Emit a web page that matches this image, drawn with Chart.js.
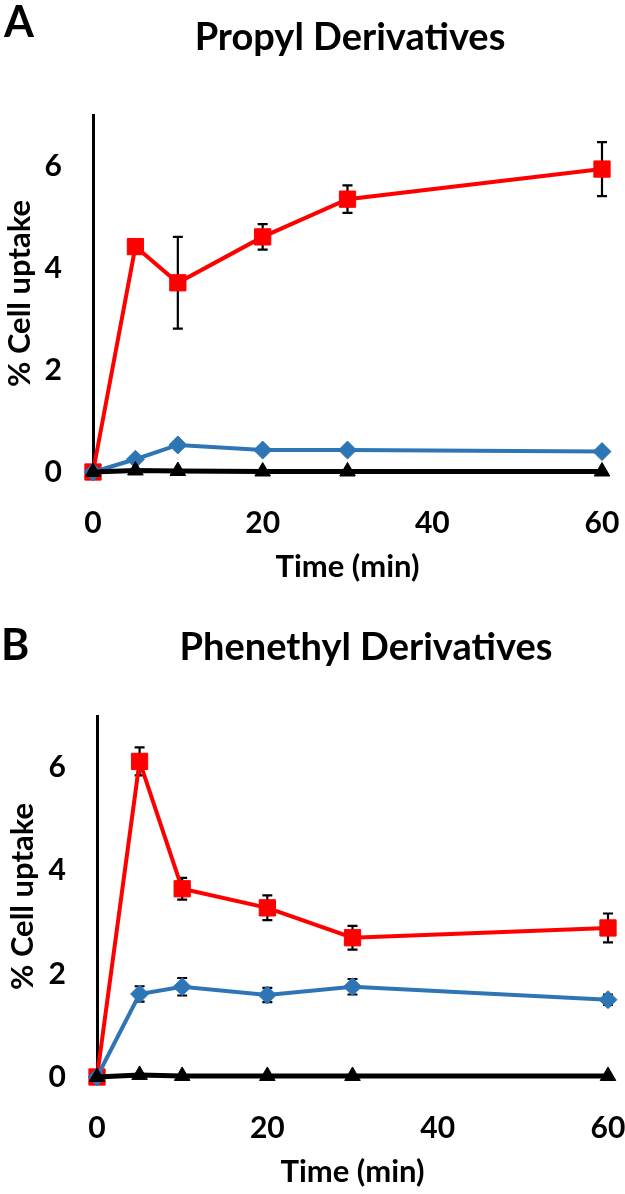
<!DOCTYPE html>
<html>
<head>
<meta charset="utf-8">
<script src="https://cdn.jsdelivr.net/npm/chart.js@4"></script>
<style>
  body { margin: 0; background: #fff; }
  .panel { position: absolute; left: 0; width: 625px; }
</style>
</head>
<body>
<div class="panel" style="top:0;height:600px"><canvas id="chartA" width="625" height="600"></canvas></div>
<div class="panel" style="top:600px;height:594px"><canvas id="chartB" width="625" height="594"></canvas></div>
<script>
// time points (min) and axis ticks
var times = [0, 5, 10, 20, 30, 60];
var xTicks = [0, 20, 40, 60];
var yTicks = [0, 2, 4, 6];

// A - Propyl derivatives
var propylRed = [0, 4.42, 3.71, 4.61, 5.35, 5.94];
var propylRedErr = [0, 0.1, 0.9, 0.25, 0.27, 0.53];
var propylBlue = [0, 0.25, 0.53, 0.43, 0.43, 0.40];
var propylBlueErr = [0, 0.02, 0.03, 0.02, 0.02, 0.02];
var propylBlack = [0, 0.03, 0.02, 0.01, 0.01, 0.01];

// B - Phenethyl derivatives
var phenRed = [0, 6.12, 3.65, 3.28, 2.70, 2.89];
var phenRedErr = [0, 0.27, 0.21, 0.24, 0.23, 0.28];
var phenBlue = [0, 1.61, 1.75, 1.59, 1.75, 1.50];
var phenBlueErr = [0, 0.15, 0.17, 0.14, 0.15, 0.10];
var phenBlack = [0, 0.04, 0.02, 0.02, 0.02, 0.02];

var FONT = "Lato, 'Open Sans', sans-serif";

function pts(vals) {
  return times.map(function (t, i) { return { x: t, y: vals[i] }; });
}

// error bars, drawn under the markers
var errorBars = {
  id: 'errorBars',
  beforeDatasetsDraw: function (chart) {
    var ctx = chart.ctx;
    var yScale = chart.scales.y;
    ctx.save();
    ctx.strokeStyle = '#000';
    ctx.lineWidth = 2.2;
    chart.data.datasets.forEach(function (ds, di) {
      if (!ds.errors) return;
      var meta = chart.getDatasetMeta(di);
      meta.data.forEach(function (p, i) {
        var e = ds.errors[i];
        if (!e) return;
        var v = ds.data[i].y;
        var top = yScale.getPixelForValue(v + e);
        var bot = yScale.getPixelForValue(v - e);
        ctx.beginPath();
        ctx.moveTo(p.x, top); ctx.lineTo(p.x, bot);
        ctx.moveTo(p.x - 5, top); ctx.lineTo(p.x + 5, top);
        ctx.moveTo(p.x - 5, bot); ctx.lineTo(p.x + 5, bot);
        ctx.stroke();
      });
    });
    ctx.restore();
  }
};

// panel letter and heading
var panelText = {
  id: 'panelText',
  afterDraw: function (chart, args, opts) {
    var ctx = chart.ctx;
    ctx.save();
    ctx.fillStyle = '#000';
    ctx.textBaseline = 'alphabetic';
    ctx.textAlign = 'left';
    ctx.font = 'bold 43px ' + FONT;
    ctx.fillText(opts.letter, opts.letterX, opts.letterY);
    ctx.textAlign = 'center';
    ctx.textBaseline = 'middle';
    ctx.font = 'bold 38px ' + FONT;
    ctx.fillText(opts.title, opts.titleX, opts.titleY);
    ctx.restore();
  }
};

function makeChart(id, red, redErr, blue, blueErr, black, L) {
  return new Chart(document.getElementById(id), {
    type: 'line',
    data: {
      datasets: [
        {
          data: pts(black),
          borderColor: '#000', borderWidth: 5,
          pointStyle: 'triangle', pointRadius: 9,
          pointBackgroundColor: '#000', pointBorderColor: '#000', pointBorderWidth: 1,
          clip: false
        },
        {
          data: pts(blue), errors: blueErr,
          borderColor: '#2E75B6', borderWidth: 4,
          pointStyle: 'rectRot', pointRadius: 9,
          pointBackgroundColor: '#2E75B6', pointBorderColor: '#2E75B6', pointBorderWidth: 1,
          clip: false
        },
        {
          data: pts(red), errors: redErr,
          borderColor: '#FF0000', borderWidth: 4,
          pointStyle: 'rect', pointRadius: 11.5,
          pointBackgroundColor: '#FF0000', pointBorderColor: '#FF0000', pointBorderWidth: 1,
          clip: false
        }
      ]
    },
    options: {
      responsive: false,
      animation: false,
      layout: { padding: { top: L.top, right: L.right, bottom: 0, left: 0 } },
      plugins: {
        legend: { display: false },
        tooltip: { enabled: false },
        panelText: L.text
      },
      scales: {
        x: {
          type: 'linear', min: 0, max: 60,
          afterBuildTicks: function (s) { s.ticks = xTicks.map(function (v) { return { value: v }; }); },
          afterFit: function (s) { s.height = L.xHeight; s.paddingLeft = 0; s.paddingRight = 0; },
          grid: { display: false, drawTicks: false },
          border: { display: false },
          ticks: { padding: 33, color: '#000', font: { family: FONT, size: 30, weight: 'bold' } },
          title: {
            display: true, text: 'Time (min)', color: '#000',
            padding: { top: 0, bottom: L.xTitlePad },
            font: { family: FONT, size: 31, weight: 'bold' }
          }
        },
        y: {
          min: 0, max: 7,
          afterBuildTicks: function (s) { s.ticks = yTicks.map(function (v) { return { value: v }; }); },
          afterFit: function (s) { s.width = L.yWidth; },
          grid: { drawOnChartArea: false, drawTicks: false, color: 'rgba(0,0,0,0)' },
          border: { display: true, color: '#000', width: 3 },
          ticks: { padding: 31, color: '#000', font: { family: FONT, size: 30, weight: 'bold' } },
          title: {
            display: true, text: '% Cell uptake', color: '#000',
            padding: { top: L.yTitlePad, bottom: 0 },
            font: { family: FONT, size: 31, weight: 'bold' }
          }
        }
      }
    },
    plugins: [errorBars, panelText]
  });
}

makeChart('chartA', propylRed, propylRedErr, propylBlue, propylBlueErr, propylBlack, {
  top: 115, right: 23, xHeight: 128, yWidth: 93, xTitlePad: 14, yTitlePad: 1,
  text: { letter: 'A', letterX: 4, letterY: 37, title: 'Propyl Derivatives', titleX: 350, titleY: 38 }
});

makeChart('chartB', phenRed, phenRedErr, phenBlue, phenBlueErr, phenBlack, {
  top: 116, right: 17, xHeight: 117, yWidth: 97, xTitlePad: 3, yTitlePad: 4,
  text: { letter: 'B', letterX: 1, letterY: 60, title: 'Phenethyl Derivatives', titleX: 366, titleY: 48 }
});
</script>
</body>
</html>
